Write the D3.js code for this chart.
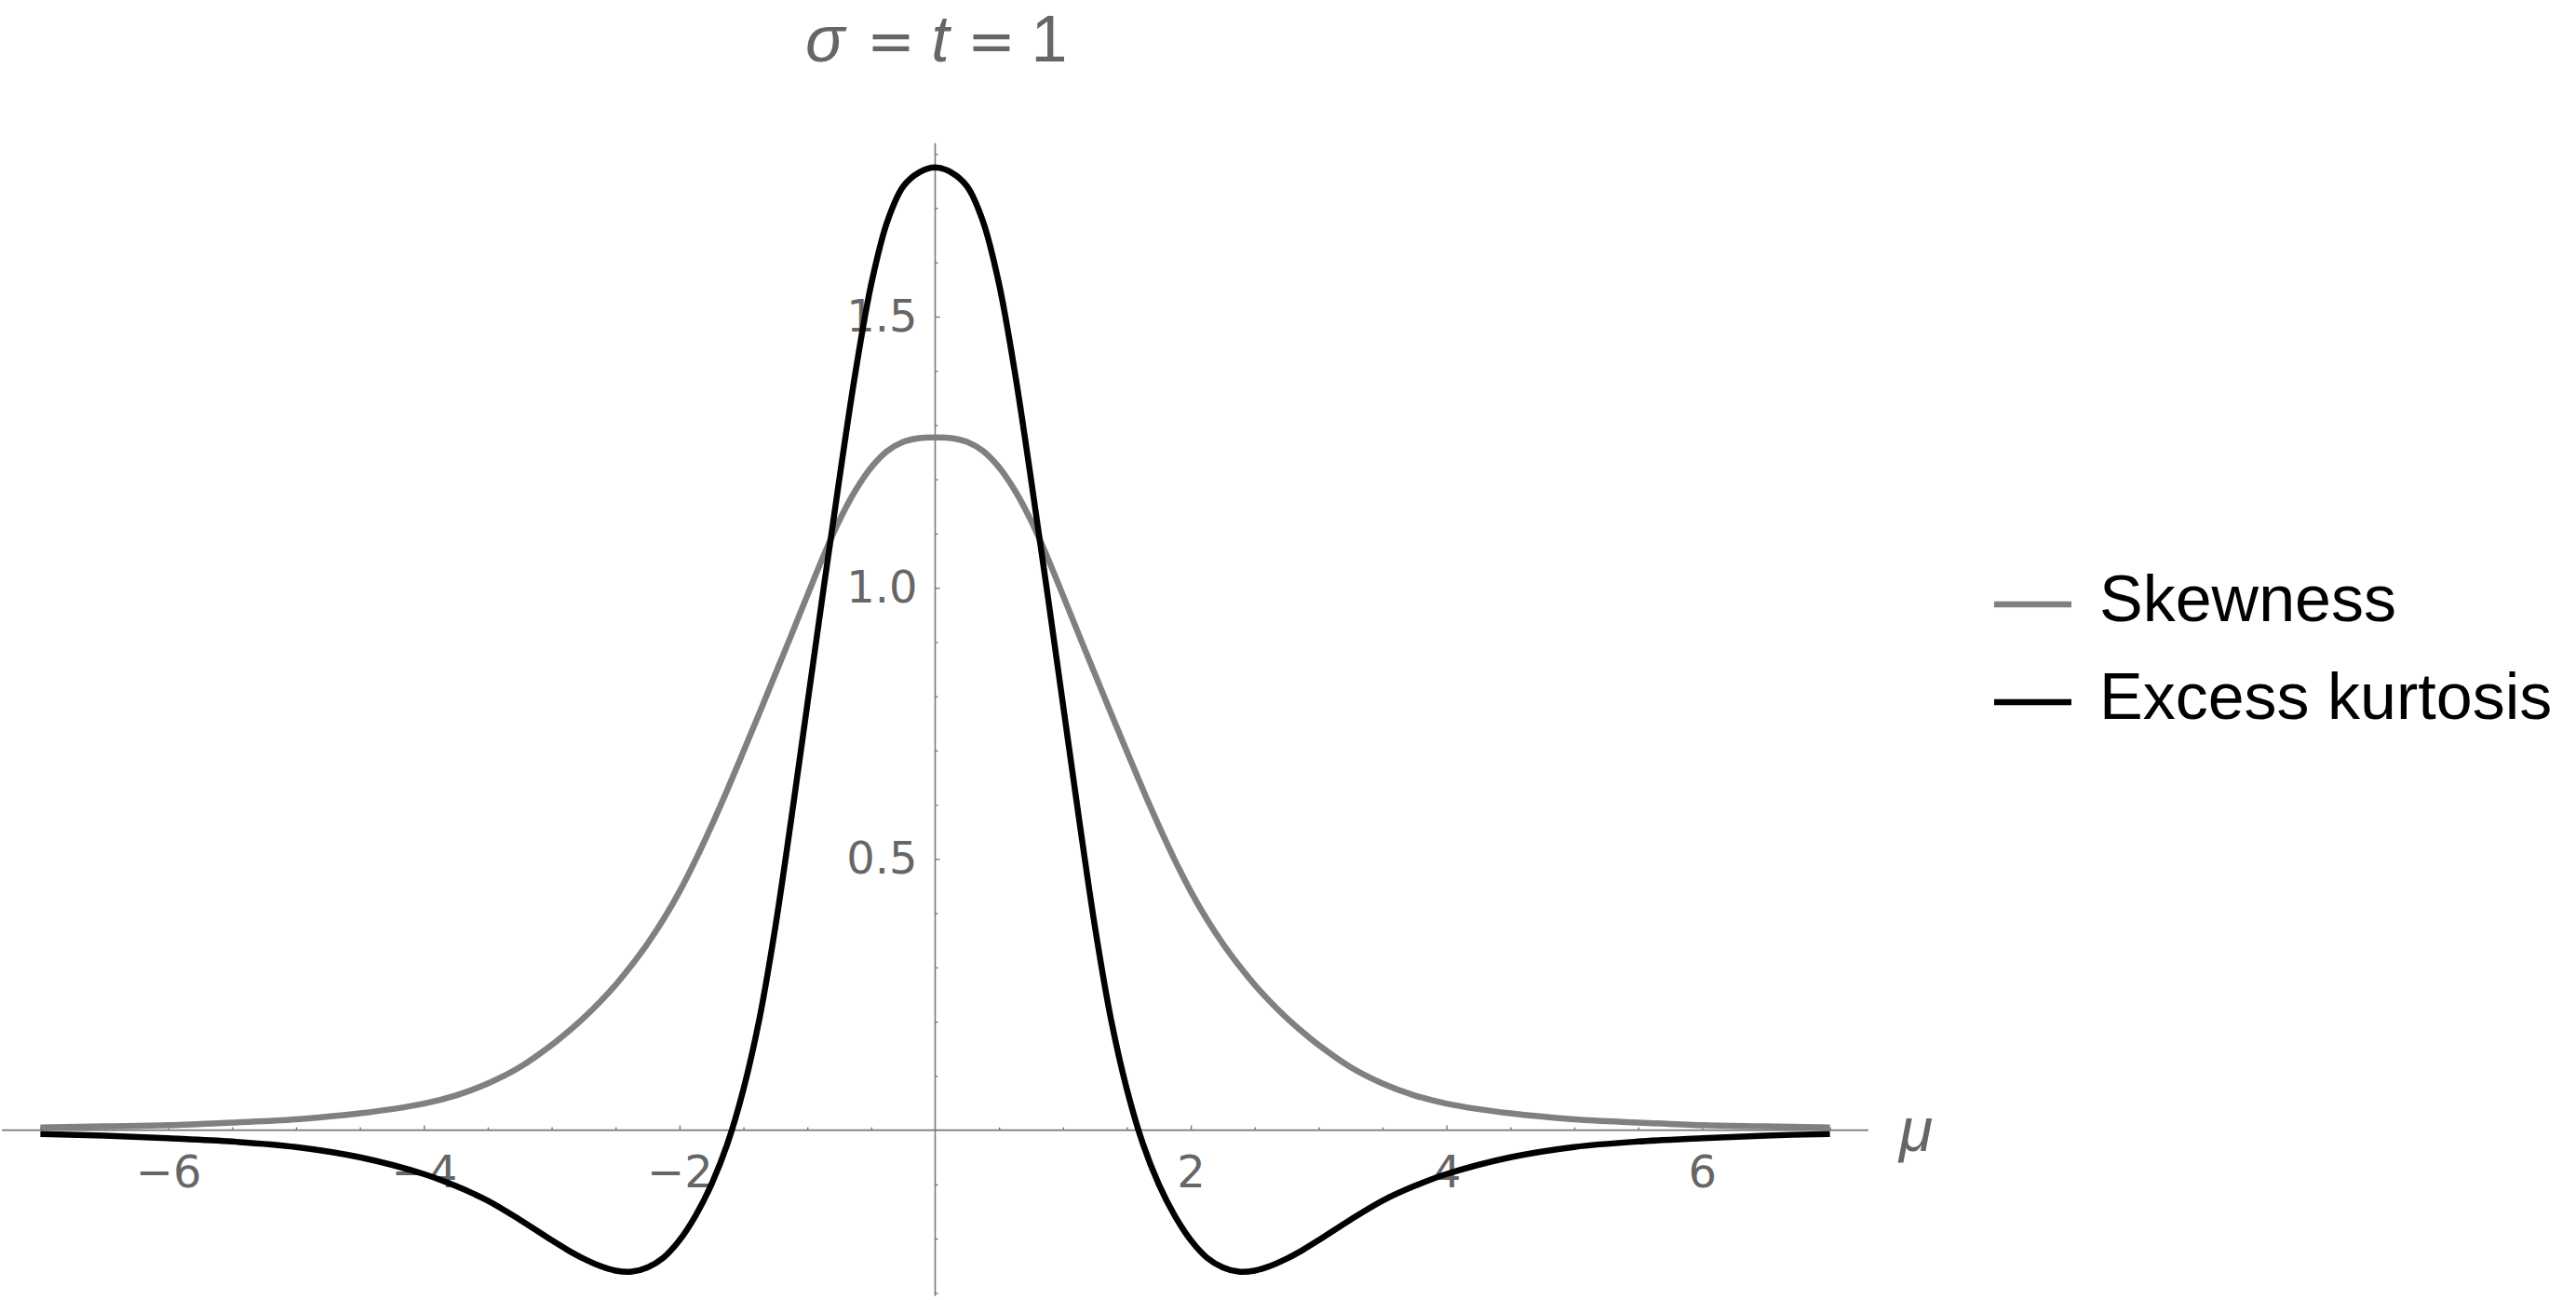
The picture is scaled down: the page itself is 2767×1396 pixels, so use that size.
<!DOCTYPE html>
<html>
<head>
<meta charset="utf-8">
<script src="https://cdn.jsdelivr.net/npm/d3@7"></script>
<style>
  body { margin: 0; background: #fff; }
  svg { display: block; }
</style>
</head>
<body>
<div class="container"></div>
<script>
// DATA
const mu = [-7, -6.5, -6, -5.5, -5, -4.5, -4, -3.75, -3.5, -3.25,
    -3, -2.875, -2.75, -2.625, -2.5, -2.375, -2.25, -2.125, -2, -1.875, -1.75, -1.625,
    -1.5, -1.375, -1.25, -1.125, -1, -0.875, -0.75, -0.625, -0.5, -0.375, -0.25, -0.125,
    0,
    0.125, 0.25, 0.375, 0.5, 0.625, 0.75, 0.875, 1, 1.125, 1.25, 1.375, 1.5,
    1.625, 1.75, 1.875, 2, 2.125, 2.25, 2.375, 2.5, 2.625, 2.75, 2.875, 3,
    3.25, 3.5, 3.75, 4, 4.5, 5, 5.5, 6, 6.5, 7];

const skewness = [0.005, 0.007, 0.009, 0.014, 0.020, 0.031, 0.049, 0.064, 0.086, 0.116,
    0.157, 0.181, 0.207, 0.236, 0.268, 0.304, 0.344, 0.389, 0.440, 0.498, 0.561, 0.628,
    0.698, 0.769, 0.841, 0.913, 0.986, 1.058, 1.124, 1.179, 1.222, 1.252, 1.269, 1.276,
    1.277,
    1.276, 1.269, 1.252, 1.222, 1.179, 1.124, 1.058, 0.986, 0.913, 0.841, 0.769, 0.698,
    0.628, 0.561, 0.498, 0.440, 0.389, 0.344, 0.304, 0.268, 0.236, 0.207, 0.181, 0.157,
    0.116, 0.086, 0.064, 0.049, 0.031, 0.020, 0.014, 0.009, 0.007, 0.005];

const kurtosis = [-0.007, -0.010, -0.015, -0.021, -0.031, -0.050, -0.081, -0.103, -0.130, -0.165,
    -0.203, -0.221, -0.237, -0.250, -0.259, -0.261, -0.253, -0.235, -0.203, -0.158, -0.100, -0.025,
    0.075, 0.205, 0.375, 0.575, 0.785, 0.995, 1.200, 1.395, 1.560, 1.675, 1.740, 1.766,
    1.775,
    1.766, 1.740, 1.675, 1.560, 1.395, 1.200, 0.995, 0.785, 0.575, 0.375, 0.205, 0.075,
    -0.025, -0.100, -0.158, -0.203, -0.235, -0.253, -0.261, -0.259, -0.250, -0.237, -0.221, -0.203,
    -0.165, -0.130, -0.103, -0.081, -0.050, -0.031, -0.021, -0.015, -0.010, -0.007];

const xMajorTicks = [-6, -4, -2, 2, 4, 6];
const xMinorTicks = d3.range(-7, 7.001, 0.5).filter(v => v % 2 !== 0);
const yMajorTicks = [0.5, 1.0, 1.5];
const yMinorTicks = d3.range(-3, 19).map(v => v / 10).filter(v => Math.abs(v * 2 - Math.round(v * 2)) > 1e-6);

const seriesNames = ["Skewness", "Excess kurtosis"];
const seriesColors = ["#808080", "#000000"];


// canvas
const width = 2767;
const height = 1396;

const svg = d3.select('.container')
    .append('svg')
    .attr('width', width)
    .attr('height', height);


// scales
const xScale = d3.scaleLinear()
    .domain([-7, 7])
    .range([43.4, 1965.6]);

const yScale = d3.scaleLinear()
    .domain([0, 1])
    .range([1213.6, 631.2]);

const axisColor = "#777";
const labelColor = "#666";


// x axis line
svg.append('line')
    .attr('x1', xScale(-7.3))
    .attr('x2', xScale(7.3))
    .attr('y1', yScale(0))
    .attr('y2', yScale(0))
    .attr('stroke', axisColor)
    .attr('stroke-width', 1.6);

// y axis line
svg.append('line')
    .attr('x1', xScale(0))
    .attr('x2', xScale(0))
    .attr('y1', yScale(1.82))
    .attr('y2', yScale(-0.306))
    .attr('stroke', axisColor)
    .attr('stroke-width', 1.6);


// x ticks (pointing up), labels below
const xMinorAxis = svg.append('g')
    .attr('transform', `translate(0, ${yScale(0)})`)
    .call(d3.axisBottom(xScale).tickValues(xMinorTicks).tickSize(-3).tickFormat(''));

const xMajorAxis = svg.append('g')
    .attr('transform', `translate(0, ${yScale(0)})`)
    .call(d3.axisBottom(xScale).tickValues(xMajorTicks).tickSize(-5).tickPadding(27).tickFormat(d3.format('d')));

// y ticks (pointing right), labels left
const yMinorAxis = svg.append('g')
    .attr('transform', `translate(${xScale(0)}, 0)`)
    .call(d3.axisLeft(yScale).tickValues(yMinorTicks).tickSize(-3).tickFormat(''));

const yMajorAxis = svg.append('g')
    .attr('transform', `translate(${xScale(0)}, 0)`)
    .call(d3.axisLeft(yScale).tickValues(yMajorTicks).tickSize(-5).tickPadding(19).tickFormat(d3.format('.1f')));

[xMinorAxis, xMajorAxis, yMinorAxis, yMajorAxis].forEach(g => {
    g.select('.domain').remove();
    g.selectAll('line').attr('stroke', axisColor).attr('stroke-width', 1.4);
    g.selectAll('text')
        .attr('fill', labelColor)
        .style('font-family', '"DejaVu Sans", sans-serif')
        .style('font-size', '48px');
});


// curves
const line = d3.line()
    .x(d => xScale(d[0]))
    .y(d => yScale(d[1]))
    .curve(d3.curveCatmullRom.alpha(0.5));

[skewness, kurtosis].forEach((values, i) => {
    svg.append('path')
        .datum(mu.map((m, j) => [m, values[j]]))
        .attr('d', line)
        .attr('fill', 'none')
        .attr('stroke', seriesColors[i])
        .attr('stroke-width', 6.5)
        .attr('stroke-linejoin', 'round');
});


// axis label
svg.append('text')
    .attr('x', 2040)
    .attr('y', 1236)
    .attr('fill', labelColor)
    .style('font-family', '"Liberation Sans", Arial, sans-serif')
    .style('font-style', 'italic')
    .style('font-size', '66px')
    .text('μ');


// title  σ = t = 1
const title = svg.append('text')
    .attr('y', 66)
    .attr('fill', labelColor)
    .attr('text-anchor', 'middle')
    .style('font-family', '"Liberation Sans", Arial, sans-serif')
    .style('font-size', '70px');

const titleParts = [
    { text: 'σ', x: 886, italic: true },
    { text: '=', x: 957, sym: true },
    { text: 't', x: 1010, italic: true },
    { text: '=', x: 1065, sym: true },
    { text: '1', x: 1127 }
];

titleParts.forEach(p => {
    title.append('tspan')
        .attr('x', p.x)
        .style('font-style', p.italic ? 'italic' : 'normal')
        .style('font-family', p.sym ? '"DejaVu Sans", sans-serif' : null)
        .style('font-size', p.sym ? '62px' : null)
        .text(p.text);
});


// LEGEND
const legend = svg.append('g')
    .attr('transform', 'translate(2142, 649)');

seriesNames.forEach((name, i) => {
    const row = legend.append('g')
        .attr('transform', `translate(0, ${i * 105})`);

    row.append('line')
        .attr('x1', 0)
        .attr('x2', 83)
        .attr('stroke', seriesColors[i])
        .attr('stroke-width', 6.5);

    row.append('text')
        .attr('x', 113)
        .attr('y', 18)
        .attr('fill', '#000')
        .style('font-family', '"Liberation Sans", Arial, sans-serif')
        .style('font-size', '70px')
        .text(name);
});
</script>
</body>
</html>
